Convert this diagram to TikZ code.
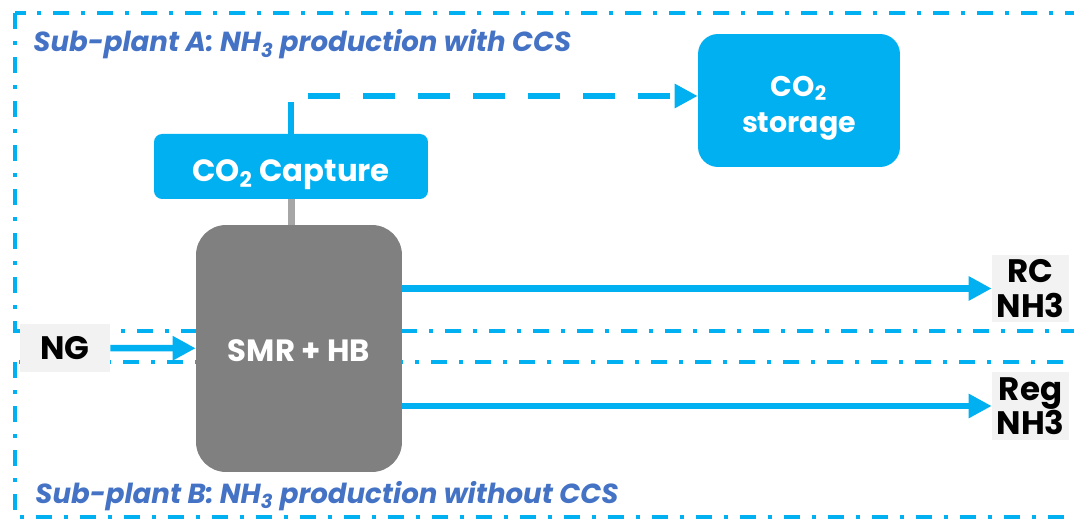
\documentclass[tikz,border=0pt]{standalone}
\usepackage{fontspec}
\setmainfont{Poppins}
\usetikzlibrary{arrows.meta}
\definecolor{flowCyan}{RGB}{0,176,240}
\definecolor{unitGray}{RGB}{128,128,128}
\definecolor{linkGray}{RGB}{166,166,166}
\definecolor{tagGray}{RGB}{242,242,242}
\definecolor{titleBlue}{RGB}{68,114,196}
\tikzset{
  unitbox/.style={inner sep=0pt, text=white, align=center, text depth=0pt},
  tagbox/.style={fill=tagGray, inner sep=0pt, align=center, minimum width=1.54cm,
    font=\fontsize{18.5}{19.5}\selectfont\bfseries},
  flow/.style={flowCyan, line width=0.13cm, -{Triangle[length=0.46cm,width=0.46cm]}},
  zone/.style={flowCyan, line width=0.08cm, dash pattern=on 0.32cm off 0.24cm on 0.08cm off 0.24cm},
  zonetitle/.style={anchor=base west, inner sep=0pt, text=titleBlue,
    font=\fontsize{15.7}{18}\selectfont\bfseries\itshape},
}
\begin{document}
\begin{tikzpicture}[x=0.02cm,y=-0.02cm]
  \useasboundingbox (0,0) rectangle (1074,519);
  \clip (0,0) rectangle (1074,519);
  % sub-plant zones
  \draw[zone] (15,13) rectangle (1110,331);
  \draw[zone] (15,362) rectangle (1110,517);
  \node[zonetitle] (titleA) at (33,52) {Sub-plant A: NH\textsubscript{3} production with CCS};
  \node[zonetitle] (titleB) at (35,503) {Sub-plant B: NH\textsubscript{3} production without CCS};
  % units
  \node[unitbox, fill=flowCyan, rounded corners=0.16cm, minimum width=5.48cm, minimum height=1.3cm,
    text height=17.6pt, font=\fontsize{17.5}{20}\selectfont\bfseries] (capture) at (291,166.5) {CO\textsubscript{2} Capture};
  \node[unitbox, fill=flowCyan, rounded corners=0.4cm, minimum width=4.04cm, minimum height=2.66cm,
    text height=36.9pt, font=\fontsize{16.2}{21}\selectfont\bfseries] (storage) at (799,100.5) {CO\textsubscript{2}\\storage};
  \node[unitbox, fill=unitGray, rounded corners=0.6cm, minimum width=4.12cm, minimum height=4.94cm,
    text height=15pt, font=\fontsize{17.5}{20}\selectfont\bfseries] (smr) at (299,348.5) {SMR + HB};
  % inputs and products
  \node[tagbox, minimum width=1.8cm, minimum height=0.96cm] (ng) at (65,348) {NG};
  \node[tagbox, minimum height=1.34cm] (rc) at (1030.5,288.5) {RC\\NH3};
  \node[tagbox, minimum height=1.36cm] (reg) at (1030.5,406) {Reg\\NH3};
  % connectors
  \draw[linkGray, line width=0.14cm] (capture.south) -- (capture.south |- smr.north);
  \draw[flow, dash pattern=on 0.64cm off 0.46cm] (capture.north) |- ([yshift=0.09cm]storage.west);
  \draw[flow] (ng) -- (smr);
  \draw[flow] (smr.east |- rc) -- (rc);
  \draw[flow] (smr.east |- reg) -- (reg);
\end{tikzpicture}
\end{document}
